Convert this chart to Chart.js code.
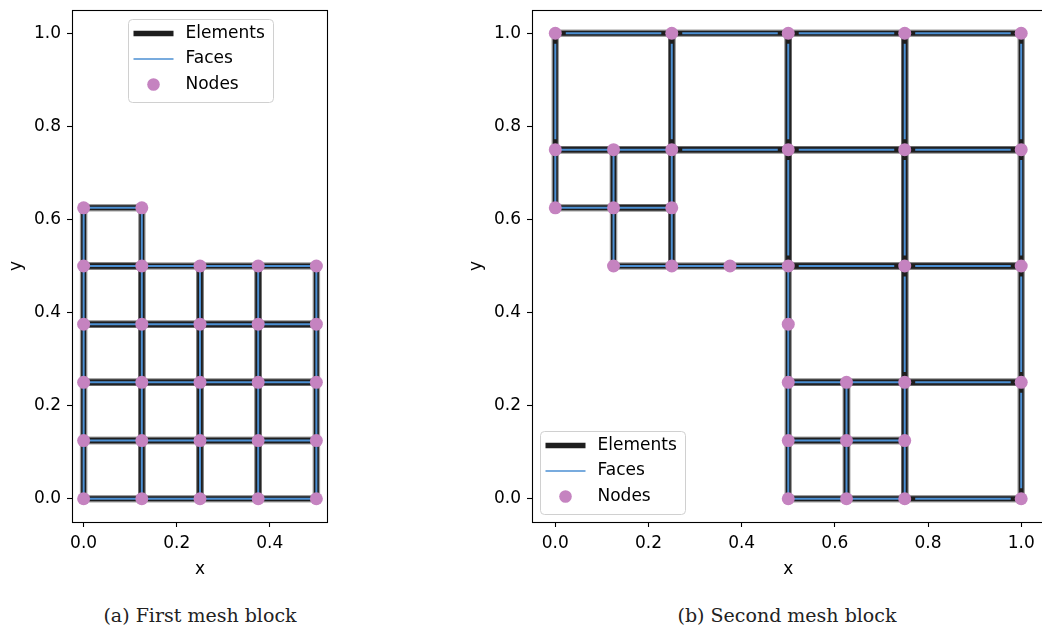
<!DOCTYPE html>
<html>
<head>
<meta charset="utf-8">
<script src="https://cdn.jsdelivr.net/npm/chart.js@4/dist/chart.umd.min.js"></script>
<style>
  html, body { margin: 0; padding: 0; background: #fff; }
  body { width: 1042px; height: 631px; position: relative; overflow: hidden; }
  .panel { position: absolute; top: 0; }
  #p1 { left: 0; }
  #p2 { left: 460px; }
  .cap {
    position: absolute; top: 604px; transform: translateX(-50%);
    font-family: "DejaVu Serif", serif; font-size: 19px; color: #222; white-space: nowrap;
  }
</style>
</head>
<body>
<div class="panel" id="p1"><canvas id="c1" width="340" height="581"></canvas></div>
<div class="panel" id="p2"><canvas id="c2" width="591" height="581"></canvas></div>
<div class="cap" style="left:200px">(a) First mesh block</div>
<div class="cap" style="left:787px">(b) Second mesh block</div>

<script>
// ---- Mesh data -----------------------------------------------------------
// Nodes are [x, y]; elements are axis-aligned quads [xMin, yMin, xMax, yMax].

const block1Nodes = [
  [0, 0], [0.125, 0], [0.25, 0], [0.375, 0], [0.5, 0],
  [0, 0.125], [0.125, 0.125], [0.25, 0.125], [0.375, 0.125], [0.5, 0.125],
  [0, 0.25], [0.125, 0.25], [0.25, 0.25], [0.375, 0.25], [0.5, 0.25],
  [0, 0.375], [0.125, 0.375], [0.25, 0.375], [0.375, 0.375], [0.5, 0.375],
  [0, 0.5], [0.125, 0.5], [0.25, 0.5], [0.375, 0.5], [0.5, 0.5],
  [0, 0.625], [0.125, 0.625]
];

const block1Elements = [
  [0, 0, 0.125, 0.125], [0.125, 0, 0.25, 0.125], [0.25, 0, 0.375, 0.125], [0.375, 0, 0.5, 0.125],
  [0, 0.125, 0.125, 0.25], [0.125, 0.125, 0.25, 0.25], [0.25, 0.125, 0.375, 0.25], [0.375, 0.125, 0.5, 0.25],
  [0, 0.25, 0.125, 0.375], [0.125, 0.25, 0.25, 0.375], [0.25, 0.25, 0.375, 0.375], [0.375, 0.25, 0.5, 0.375],
  [0, 0.375, 0.125, 0.5], [0.125, 0.375, 0.25, 0.5], [0.25, 0.375, 0.375, 0.5], [0.375, 0.375, 0.5, 0.5],
  [0, 0.5, 0.125, 0.625]
];

const block2Nodes = [
  [0, 1], [0.25, 1], [0.5, 1], [0.75, 1], [1, 1],
  [0, 0.75], [0.125, 0.75], [0.25, 0.75], [0.5, 0.75], [0.75, 0.75], [1, 0.75],
  [0, 0.625], [0.125, 0.625], [0.25, 0.625],
  [0.125, 0.5], [0.25, 0.5], [0.375, 0.5], [0.5, 0.5], [0.75, 0.5], [1, 0.5],
  [0.5, 0.375],
  [0.5, 0.25], [0.625, 0.25], [0.75, 0.25], [1, 0.25],
  [0.5, 0.125], [0.625, 0.125], [0.75, 0.125],
  [0.5, 0], [0.625, 0], [0.75, 0], [1, 0]
];

const block2Elements = [
  [0, 0.75, 0.25, 1], [0.25, 0.75, 0.5, 1], [0.5, 0.75, 0.75, 1], [0.75, 0.75, 1, 1],
  [0, 0.625, 0.125, 0.75], [0.125, 0.625, 0.25, 0.75],
  [0.125, 0.5, 0.25, 0.625],
  [0.25, 0.5, 0.5, 0.75],
  [0.5, 0.5, 0.75, 0.75], [0.75, 0.5, 1, 0.75],
  [0.5, 0.25, 0.75, 0.5], [0.75, 0.25, 1, 0.5],
  [0.5, 0.125, 0.625, 0.25], [0.625, 0.125, 0.75, 0.25],
  [0.5, 0, 0.625, 0.125], [0.625, 0, 0.75, 0.125],
  [0.75, 0, 1, 0.25]
];

const block1XTicks = [0, 0.2, 0.4];
const block2XTicks = [0, 0.2, 0.4, 0.6, 0.8, 1.0];
const yTicks = [0, 0.2, 0.4, 0.6, 0.8, 1.0];

const legendLabels = ['Elements', 'Faces', 'Nodes'];

// ---- Styling -------------------------------------------------------------
const ELEMENT_COLOR = '#1e1e1e';
const ELEMENT_HALO = 'rgba(60,60,60,0.5)';
const FACE_COLOR = '#4b8fd3';
const NODE_COLOR = '#c583c0';
const FONT = '"DejaVu Sans", sans-serif';
const FONT_SIZE = 17;

// ---- Geometry helpers ----------------------------------------------------
// Faces are the element edges split at every node lying on them (hanging nodes).
function buildFaces(nodes, elements) {
  const seen = new Set();
  const faces = [];
  const eps = 1e-9;
  elements.forEach(([x0, y0, x1, y1]) => {
    const edges = [
      [[x0, y0], [x1, y0]], [[x1, y0], [x1, y1]],
      [[x1, y1], [x0, y1]], [[x0, y1], [x0, y0]]
    ];
    edges.forEach(([a, b]) => {
      const horizontal = Math.abs(a[1] - b[1]) < eps;
      const lo = horizontal ? Math.min(a[0], b[0]) : Math.min(a[1], b[1]);
      const hi = horizontal ? Math.max(a[0], b[0]) : Math.max(a[1], b[1]);
      const fixed = horizontal ? a[1] : a[0];
      const stops = nodes
        .filter(([nx, ny]) => horizontal
          ? Math.abs(ny - fixed) < eps && nx >= lo - eps && nx <= hi + eps
          : Math.abs(nx - fixed) < eps && ny >= lo - eps && ny <= hi + eps)
        .map(([nx, ny]) => horizontal ? nx : ny)
        .sort((p, q) => p - q);
      for (let i = 0; i + 1 < stops.length; i++) {
        const s = stops[i], t = stops[i + 1];
        const p = horizontal ? [s, fixed] : [fixed, s];
        const q = horizontal ? [t, fixed] : [fixed, t];
        const key = p.join(',') + '|' + q.join(',');
        if (!seen.has(key)) { seen.add(key); faces.push([p, q]); }
      }
    });
  });
  return faces;
}

// Faces are drawn slightly trimmed at both ends so the element outline shows.
const FACE_TRIM = 0.09;

function elementLoop([x0, y0, x1, y1]) {
  return [{ x: x0, y: y0 }, { x: x1, y: y0 }, { x: x1, y: y1 }, { x: x0, y: y1 }, { x: x0, y: y0 }];
}

function buildDatasets(nodes, elements) {
  const sets = [];
  sets.push({
    label: 'Nodes', order: 0,
    data: nodes.map(([x, y]) => ({ x, y })),
    showLine: false, pointRadius: 6.5, pointHoverRadius: 6.5,
    pointBackgroundColor: NODE_COLOR, pointBorderWidth: 0
  });
  buildFaces(nodes, elements).forEach(([p, q]) => {
    const dx = (q[0] - p[0]) * FACE_TRIM, dy = (q[1] - p[1]) * FACE_TRIM;
    sets.push({
      label: 'Faces', order: 1,
      data: [{ x: p[0] + dx, y: p[1] + dy }, { x: q[0] - dx, y: q[1] - dy }],
      showLine: true, borderColor: FACE_COLOR, borderWidth: 2,
      borderCapStyle: 'butt', pointRadius: 0, fill: false
    });
  });
  elements.forEach(el => {
    sets.push({
      label: 'Elements', order: 2,
      data: elementLoop(el),
      showLine: true, borderColor: ELEMENT_COLOR, borderWidth: 5,
      borderCapStyle: 'square', borderJoinStyle: 'miter', pointRadius: 0, fill: false
    });
    // soft outer edge of the element outline
    sets.push({
      label: 'Elements', order: 3,
      data: elementLoop(el),
      showLine: true, borderColor: ELEMENT_HALO, borderWidth: 7.5,
      borderCapStyle: 'square', borderJoinStyle: 'miter', pointRadius: 0, fill: false
    });
  });
  return sets;
}

// ---- Plugins -------------------------------------------------------------
const framePlugin = {
  id: 'frame',
  afterDatasetsDraw(chart) {
    const { ctx, chartArea: a } = chart;
    ctx.save();
    ctx.strokeStyle = '#000';
    ctx.lineWidth = 1.1;
    ctx.strokeRect(Math.round(a.left) + 0.5, Math.round(a.top) + 0.5,
                   Math.round(a.right - a.left) - 1, Math.round(a.bottom - a.top));
    ctx.restore();
  }
};

function roundRect(ctx, x, y, w, h, r) {
  ctx.beginPath();
  ctx.moveTo(x + r, y);
  ctx.lineTo(x + w - r, y); ctx.quadraticCurveTo(x + w, y, x + w, y + r);
  ctx.lineTo(x + w, y + h - r); ctx.quadraticCurveTo(x + w, y + h, x + w - r, y + h);
  ctx.lineTo(x + r, y + h); ctx.quadraticCurveTo(x, y + h, x, y + h - r);
  ctx.lineTo(x, y + r); ctx.quadraticCurveTo(x, y, x + r, y);
  ctx.closePath();
}

const meshLegendPlugin = {
  id: 'meshLegend',
  afterDraw(chart, args, opts) {
    const { ctx, chartArea: a } = chart;
    const w = 145, h = 83;
    let left, top;
    if (opts.where === 'upper center') {
      left = (a.left + a.right) / 2 - w / 2; top = a.top + 9;
    } else {
      left = a.left + 8; top = a.bottom - 8 - h;
    }
    left = Math.round(left) + 0.5; top = Math.round(top) + 0.5;
    ctx.save();
    roundRect(ctx, left, top, w, h, 4);
    ctx.fillStyle = 'rgba(255,255,255,0.8)';
    ctx.fill();
    ctx.strokeStyle = '#d0d0d0';
    ctx.lineWidth = 1;
    ctx.stroke();

    const hx0 = left + 5, hx1 = left + 45;
    legendLabels.forEach((label, i) => {
      const cy = top + 14 + i * 25.5;
      if (label === 'Elements') {
        ctx.strokeStyle = ELEMENT_COLOR; ctx.lineWidth = 5.5; ctx.lineCap = 'butt';
        ctx.beginPath(); ctx.moveTo(hx0, cy); ctx.lineTo(hx1, cy); ctx.stroke();
      } else if (label === 'Faces') {
        ctx.strokeStyle = FACE_COLOR; ctx.lineWidth = 1.6; ctx.lineCap = 'butt';
        ctx.beginPath(); ctx.moveTo(hx0, cy); ctx.lineTo(hx1, cy); ctx.stroke();
      } else {
        ctx.fillStyle = NODE_COLOR;
        ctx.beginPath(); ctx.arc((hx0 + hx1) / 2, cy, 6.3, 0, Math.PI * 2); ctx.fill();
      }
      ctx.fillStyle = '#000';
      ctx.font = FONT_SIZE + 'px ' + FONT;
      ctx.textBaseline = 'middle';
      ctx.textAlign = 'left';
      ctx.fillText(label, left + 57, cy);
    });
    ctx.restore();
  }
};

// ---- Chart factory -------------------------------------------------------
function axisCommon(ticks, min, max, title, isX) {
  return {
    type: 'linear',
    min, max,
    afterBuildTicks: axis => { axis.ticks = ticks.map(v => ({ value: v })); },
    afterFit: scale => {
      // fixed axis band; no extra room reserved for overhanging end labels
      if (isX) { scale.height = 59; scale.paddingLeft = 0; scale.paddingRight = 0; }
      else { scale.width = 72; scale.paddingTop = 0; scale.paddingBottom = 0; }
    },
    ticks: {
      color: '#000', padding: 6, autoSkip: false, maxRotation: 0,
      font: { family: FONT, size: FONT_SIZE },
      callback: v => v.toFixed(1)
    },
    grid: {
      display: true, drawOnChartArea: false, drawTicks: true,
      tickLength: 5, tickColor: '#000', tickWidth: 1.1
    },
    border: { display: false },
    title: {
      display: true, text: title, color: '#000',
      font: { family: FONT, size: FONT_SIZE },
      padding: isX ? { top: 0, bottom: 1 } : { top: 6, bottom: 0 }
    }
  };
}

function makeChart(canvasId, nodes, elements, xTicks, xMin, xMax, legendWhere, padRight) {
  return new Chart(document.getElementById(canvasId), {
    type: 'scatter',
    data: { datasets: buildDatasets(nodes, elements) },
    options: {
      responsive: false,
      animation: false,
      devicePixelRatio: 1,
      events: [],
      layout: { padding: { left: 0, right: padRight, top: 10, bottom: 0 } },
      scales: {
        x: axisCommon(xTicks, xMin, xMax, 'x', true),
        y: axisCommon(yTicks, -0.05, 1.05, 'y', false)
      },
      plugins: {
        legend: { display: false },
        tooltip: { enabled: false },
        meshLegend: { where: legendWhere }
      }
    },
    plugins: [framePlugin, meshLegendPlugin]
  });
}

makeChart('c1', block1Nodes, block1Elements, block1XTicks, -0.025, 0.525, 'upper center', 12);
makeChart('c2', block2Nodes, block2Elements, block2XTicks, -0.05, 1.05, 'lower left', 1);
</script>
</body>
</html>
